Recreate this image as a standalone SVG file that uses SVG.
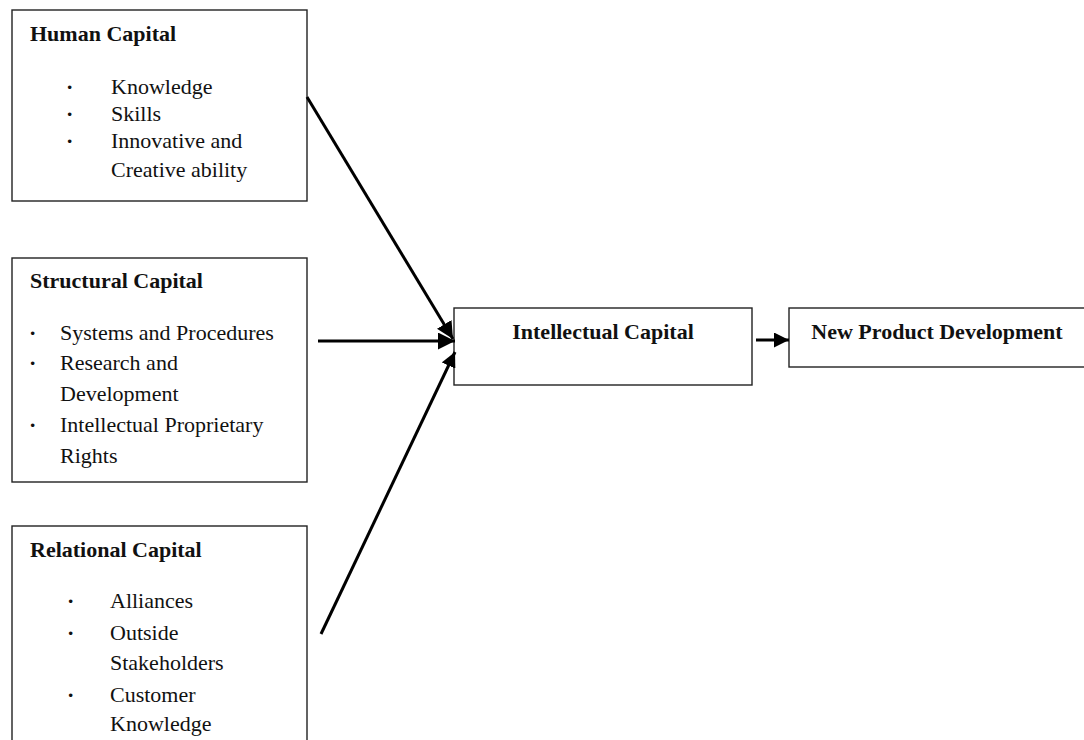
<svg xmlns="http://www.w3.org/2000/svg" width="1084" height="740" viewBox="0 0 1084 740">
<style>
.box{fill:#fff;stroke:#222;stroke-width:1.4}
.t{font-family:"Liberation Serif","Times New Roman",serif;font-size:22px;fill:#111}
.b{font-weight:bold}
.bul{font-family:"Liberation Serif","Times New Roman",serif;font-size:22px;font-weight:bold;fill:#111}
.c{fill:none;stroke:#000;stroke-width:3}
</style>
<defs>
<marker id="ah" viewBox="0 0 10 10" refX="10" refY="5" markerUnits="userSpaceOnUse" markerWidth="17" markerHeight="17" orient="auto">
<path d="M0,0 L10,5 L0,10 z" fill="#000"/>
</marker>
<marker id="ahs" viewBox="0 0 10 10" refX="10" refY="5" markerUnits="userSpaceOnUse" markerWidth="15" markerHeight="15" orient="auto">
<path d="M0,0 L10,5 L0,10 z" fill="#000"/>
</marker>
</defs>
<rect width="1084" height="740" fill="#fff"/>
<g id="human">
<rect class="box" x="12" y="10" width="295" height="191"/>
<text class="t b" x="30" y="41">Human Capital</text>
<text class="bul" x="66" y="94">·</text><text class="t" x="111" y="94">Knowledge</text>
<text class="bul" x="66" y="121">·</text><text class="t" x="111" y="121">Skills</text>
<text class="bul" x="66" y="148">·</text><text class="t" x="111" y="148">Innovative and</text>
<text class="t" x="111" y="177">Creative ability</text>
</g>
<g id="structural">
<rect class="box" x="12" y="258" width="295" height="224"/>
<text class="t b" x="30" y="288">Structural Capital</text>
<text class="bul" x="29" y="340">·</text><text class="t" x="60" y="340">Systems and Procedures</text>
<text class="bul" x="29" y="370">·</text><text class="t" x="60" y="370">Research and</text>
<text class="t" x="60" y="401">Development</text>
<text class="bul" x="29" y="432">·</text><text class="t" x="60" y="432">Intellectual Proprietary</text>
<text class="t" x="60" y="463">Rights</text>
</g>
<g id="relational">
<rect class="box" x="12" y="526" width="295" height="230"/>
<text class="t b" x="30" y="557">Relational Capital</text>
<text class="bul" x="67" y="608">·</text><text class="t" x="110" y="608">Alliances</text>
<text class="bul" x="67" y="640">·</text><text class="t" x="110" y="640">Outside</text>
<text class="t" x="110" y="670">Stakeholders</text>
<text class="bul" x="67" y="702">·</text><text class="t" x="110" y="702">Customer</text>
<text class="t" x="110" y="731">Knowledge</text>
</g>
<g id="intellectual">
<rect class="box" x="454" y="308" width="298" height="77"/>
<text class="t b" x="603" y="339" text-anchor="middle">Intellectual Capital</text>
</g>
<g id="npd">
<rect class="box" x="789" y="308" width="296" height="59"/>
<text class="t b" x="937" y="339" text-anchor="middle">New Product Development</text>
</g>
<g id="connectors">
<line class="c" x1="307" y1="97" x2="453" y2="339" marker-end="url(#ah)"/>
<line class="c" x1="318" y1="341" x2="455" y2="341" marker-end="url(#ah)"/>
<line class="c" x1="321" y1="634" x2="455" y2="352" marker-end="url(#ahs)"/>
<line class="c" x1="756" y1="340" x2="789" y2="340" marker-end="url(#ahs)"/>
</g>
</svg>
